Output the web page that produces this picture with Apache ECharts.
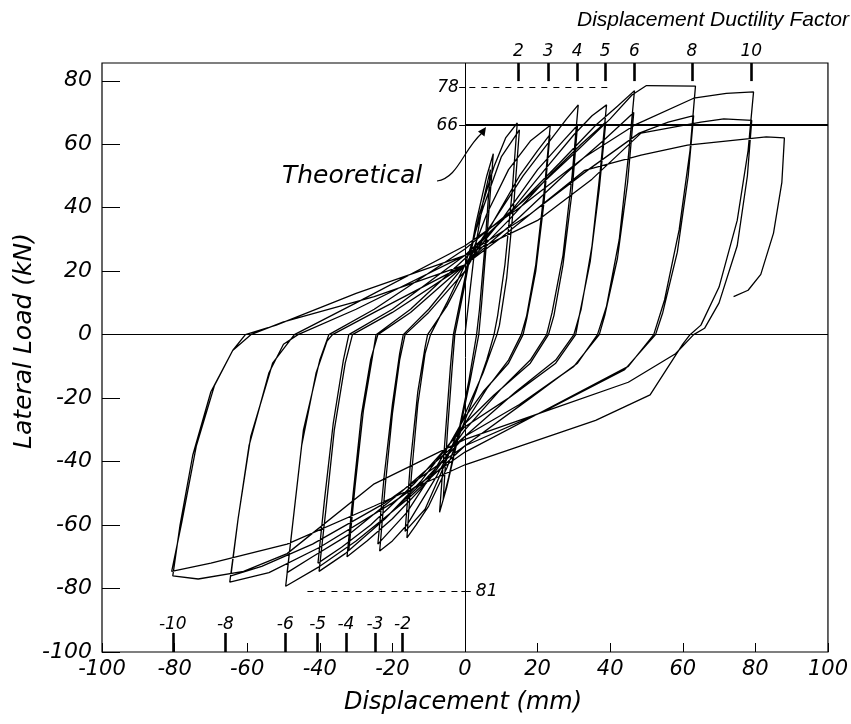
<!DOCTYPE html>
<html><head><meta charset="utf-8">
<script src="https://cdn.jsdelivr.net/npm/echarts/dist/echarts.min.js"></script>
<style>html,body{margin:0;padding:0;background:#fff}#c{width:851px;height:724px}</style>
</head><body><div id="c"></div>
<script>
// ---------- data ----------
const xTicks = [-100,-80,-60,-40,-20,0,20,40,60,80,100];
const yTicks = [-100,-80,-60,-40,-20,0,20,40,60,80];
const ductilityTop = ['2','3','4','5','6','8','10'];
const ductilityTopX = [14.7,22.9,30.9,38.6,46.7,62.5,78.9];
const ductilityBottom = ['-10','-8','-6','-5','-4','-3','-2'];
const ductilityBottomX = [-80.5,-66,-49.5,-40.6,-32.8,-24.8,-17.2];
const theoreticalLoad = 66;
const maxLoadLabel = '78', maxLoad = 78;
const minLoadLabel = '81', minLoad = -81;
const theoreticalLabel = '66';
// displacement (mm), lateral load (kN) — full test history
const loadPath = [
[0,0],
[2.5,25],[5,42],[7,52],
[5.5,28],[4,8],[3.2,0],
[1,-15],[-2,-32],[-4.5,-45],[-6,-52],
[-4.8,-30],[-3.5,-10],[-2.8,0],
[0,16],[3,35],[6,50],[7.8,57],
[6.2,33],[4.6,10],[3.8,0],
[1.5,-14],[-2,-33],[-5,-48],[-7,-56],
[-5.5,-33],[-4,-10],[-3.2,0],
[0,18],[4,38],[8,53],[11.2,62],[14.4,66.7],
[13,45],[11,22],[9,6],[8,0],
[6,-8],[3,-18],[0,-27],[-5,-42],[-10,-54],[-13.5,-60],[-16,-64],
[-14.8,-45],[-13,-22],[-11,-6],[-9.5,0],
[-5,10],[0,22],[5,40],[10,56],[15,64.5],
[13.5,42],[11.5,18],[9.5,3],[8.8,0],
[5,-12],[0,-25],[-6,-42],[-11,-55],[-16.5,-62],
[-15,-40],[-13,-18],[-11,-4],[-10.3,0],
[-5,9],[0,20],[6,38],[12,52],[18,61],[23.5,66],
[21.8,45],[19.5,22],[17,6],[15.5,0],
[12,-8],[6,-17],[0,-28],[-8,-45],[-16,-60],[-20,-65],[-23.5,-68.2],
[-22,-48],[-20,-25],[-18,-8],[-16.5,0],
[-10,7],[0,20],[8,36],[15,50],[20,58],[23.4,63],
[21.8,42],[19.5,20],[17,5],[16,0],
[12,-9],[5,-18],[0,-26],[-8,-42],[-16,-56],[-24,-66],
[-22.3,-45],[-20,-22],[-18,-6],[-17,0],
[-10,8],[0,22],[8,36],[16,50],[24,62],[28,68],[31.2,72.4],
[29.5,50],[27,25],[24,7],[22.5,0],
[18,-8],[10,-17],[0,-30],[-10,-46],[-20,-58],[-27,-65],[-32.5,-70],
[-30.8,-50],[-28.5,-25],[-26,-8],[-24,0],
[-15,7],[0,22],[10,36],[20,52],[27,61],[31,66],
[29.5,45],[27,22],[24.5,6],[23,0],
[18,-9],[8,-19],[0,-28],[-12,-46],[-22,-58],[-28,-64],[-32,-68],
[-30.3,-48],[-28,-24],[-25.5,-7],[-24.5,0],
[-15,8],[0,24],[12,38],[22,52],[30,63],[35,69],[39,72.4],
[37.3,52],[35,28],[32,8],[30,0],
[25,-8],[14,-18],[0,-32],[-12,-47],[-24,-60],[-33,-69],[-40.2,-74.6],
[-38.3,-55],[-36,-30],[-33,-9],[-31,0],
[-20,7],[0,22],[12,36],[24,51],[32,60],[38.8,67],
[37,46],[34.5,23],[31.5,6],[30.5,0],
[25,-9],[12,-20],[0,-29],[-14,-47],[-26,-60],[-34,-67],[-40.5,-72],
[-38.7,-52],[-36.3,-28],[-33.5,-8],[-32,0],
[-20,8],[0,25],[14,40],[26,54],[36,66],[42,72],[46.7,76.9],
[45,56],[42.5,30],[39,9],[36.5,0],
[31,-9],[18,-20],[0,-35],[-16,-52],[-30,-65],[-40,-73],[-49.4,-79.3],
[-47.5,-60],[-45,-35],[-41,-12],[-38,-2],[-36.5,0],
[-25,7],[0,22],[15,37],[28,51],[38,61],[46.5,70],
[44.8,48],[42,24],[38.5,6],[37,0],
[30,-10],[15,-22],[0,-32],[-18,-50],[-32,-63],[-42,-70],[-49,-75],
[-47,-55],[-44.5,-30],[-40,-8],[-37.5,0],
[-25,8],[0,27],[16,42],[30,57],[40,68],[46,75.5],[50,78.5],[63.5,78.3],
[62,58],[59,33],[55,11],[52,0],
[45,-10],[25,-22],[0,-37],[-20,-53],[-40,-67],[-54,-75],[-64.8,-78],
[-62.6,-58.8],[-59.5,-35],[-54,-12],[-50,-3],[-46,0],
[-30,8],[0,25],[18,38],[34,52],[48,63.5],[56,67],[63,69],
[61.5,50],[58.5,26],[54.5,7],[52.5,0],
[44,-11],[22,-24],[0,-35],[-22,-53],[-42,-66],[-56,-73],[-64.5,-76],
[-62.5,-58],[-59,-32],[-53,-9],[-47,0],
[-30,10],[0,28],[15,40],[33,56],[46.7,66],[63,74.5],[72,76],[79.5,76.5],
[78,58],[75,36],[70,15],[65,3],[62,0],[60,-3],[51,-19],[36,-27],[0,-41],[-25,-54],[-49,-66],[-70,-72],[-80.8,-74.6],
[-78,-59],[-74,-35],[-69,-16],[-64,-5],[-60.5,0],
[-52,3],[-30,13],[0,25],[20,36],[35,49],[48.5,63.5],[65,67],[71.3,68],[79,67.5],
[77.8,50],[75,28],[70,10],[66,2],[63,0],[58,-6],[45,-15],[25,-23],[0,-33],[-25,-47],[-49,-69],[-61,-74.6],[-73.5,-77],[-80.5,-76],
[-78.5,-60],[-75,-38],[-70,-18],[-64,-5],[-59,0],
[-50,4],[-25,12],[0,22],[10.1,30.7],[33,51.8],[48.5,56.6],[61.3,59.7],[83,62.3],[88,62],
[87.3,48],[85,32],[81.5,19],[78,14],[74,12]
];
const maxLoadDash = [1.2, 39.3];
const minLoadDash = [-43.4, -1.6];

// ---------- chart ----------
const FONT = 'DejaVu Sans';
const INK = '#000';
const chart = echarts.init(document.getElementById('c'), null, {renderer: 'canvas'});

const topLabelY = 89.1, bottomLabelY = -91.3;
const topTickFrom = 85.6, topTickTo = 79.9;
const bottomTickFrom = -100, bottomTickTo = -94;

const ductMarks = [];
ductilityTopX.forEach(x => ductMarks.push([{coord: [x, topTickFrom]}, {coord: [x, topTickTo]}]));
ductilityBottomX.forEach(x => ductMarks.push([{coord: [x, bottomTickFrom]}, {coord: [x, bottomTickTo]}]));

const labelData = [];
ductilityTop.forEach((t, i) => labelData.push({name: t, value: [ductilityTopX[i], topLabelY], label: {align: 'center'}}));
ductilityBottom.forEach((t, i) => labelData.push({name: t, value: [ductilityBottomX[i], bottomLabelY], label: {align: 'center'}}));
labelData.push({name: maxLoadLabel, value: [-1.7, maxLoad], label: {align: 'right'}});
labelData.push({name: theoreticalLabel, value: [-1.9, theoreticalLoad], label: {align: 'right'}});
labelData.push({name: minLoadLabel, value: [3, minLoad], label: {align: 'left'}});

const thinLine = {color: INK, width: 1, type: 'solid'};
const option = {
  animation: false,
  backgroundColor: '#fff',
  grid: {left: 102, right: 17, top: 63, bottom: 72, show: true, borderColor: INK, borderWidth: 1.2},
  xAxis: {
    type: 'value', min: -100, max: 100, interval: 20,
    axisLine: {show: false, onZero: false},
    axisTick: {show: true, inside: true, length: 9, lineStyle: {color: INK, width: 1}},
    axisLabel: {margin: 7, fontFamily: FONT, fontStyle: 'italic', fontSize: 21, color: INK},
    splitLine: {show: false}
  },
  yAxis: {
    type: 'value', min: -100, max: 85.6, interval: 20,
    axisLine: {show: false, onZero: false},
    axisTick: {show: true, inside: true, length: 18, lineStyle: {color: INK, width: 1}},
    axisLabel: {margin: 10, showMaxLabel: false, fontFamily: FONT, fontStyle: 'italic', fontSize: 22, color: INK},
    splitLine: {show: false}
  },
  series: [
    {
      name: 'Lateral load', type: 'line', data: loadPath, showSymbol: false, symbol: 'none',
      lineStyle: {color: INK, width: 1.3}, smooth: false, silent: true, z: 3,
      markLine: {
        silent: true, symbol: ['none', 'none'], label: {show: false}, animation: false,
        data: [
          {xAxis: 0, lineStyle: thinLine},
          {yAxis: 0, lineStyle: thinLine},
          [{coord: [0, theoreticalLoad], lineStyle: {color: INK, width: 2.2, type: 'solid'}}, {coord: [100, theoreticalLoad]}],
          [{coord: [maxLoadDash[0], maxLoad], lineStyle: {color: INK, width: 1, type: [6, 6]}}, {coord: [maxLoadDash[1], maxLoad]}],
          [{coord: [minLoadDash[0], minLoad], lineStyle: {color: INK, width: 1, type: [6, 6]}}, {coord: [minLoadDash[1], minLoad]}],
          [{coord: [-1.6, maxLoad], lineStyle: thinLine}, {coord: [0, maxLoad]}],
          [{coord: [-1.6, theoreticalLoad], lineStyle: thinLine}, {coord: [0, theoreticalLoad]}],
          [{coord: [-1.0, minLoad], lineStyle: thinLine}, {coord: [1.6, minLoad]}]
        ]
      }
    },
    {
      name: 'labels', type: 'scatter', data: labelData, symbolSize: 0, clip: false, silent: true,
      itemStyle: {opacity: 1, color: INK},
      label: {show: true, position: 'inside', formatter: p => p.name, fontFamily: FONT, fontStyle: 'italic', fontSize: 17,
              color: INK, opacity: 1, textBorderWidth: 0, textBorderColor: 'transparent', verticalAlign: 'middle'},
      markLine: {
        silent: true, symbol: ['none', 'none'], label: {show: false}, animation: false,
        lineStyle: {color: INK, width: 2.6, type: 'solid', opacity: 1},
        data: ductMarks
      }
    }
  ],
  graphic: [
    {type: 'text', x: 577, y: 20, style: {text: 'Displacement Ductility Factor', font: 'italic 21px "Liberation Sans"', fill: INK, textAlign: 'left', textVerticalAlign: 'middle'}},
    {type: 'text', x: 463, y: 703, style: {text: 'Displacement (mm)', font: 'italic 24px "DejaVu Sans"', fill: INK, textAlign: 'center', textVerticalAlign: 'middle'}},
    {type: 'text', x: 24, y: 341, rotation: Math.PI / 2, style: {text: 'Lateral Load (kN)', font: 'italic 25px "DejaVu Sans"', fill: INK, textAlign: 'center', textVerticalAlign: 'middle'}},
    {type: 'text', x: 282, y: 176, style: {text: 'Theoretical', font: 'italic 25px "DejaVu Sans"', fill: INK, textAlign: 'left', textVerticalAlign: 'middle'}},
    {type: 'bezierCurve', shape: {x1: 437, y1: 181, x2: 482, y2: 133, cpx1: 458, cpy1: 178, cpx2: 463, cpy2: 150}, style: {stroke: INK, lineWidth: 1.2, fill: null}},
    {type: 'polygon', shape: {points: [[486, 127], [484.5, 136.5], [478, 131.5]]}, style: {fill: INK}}
  ]
};
chart.setOption(option);
</script></body></html>
